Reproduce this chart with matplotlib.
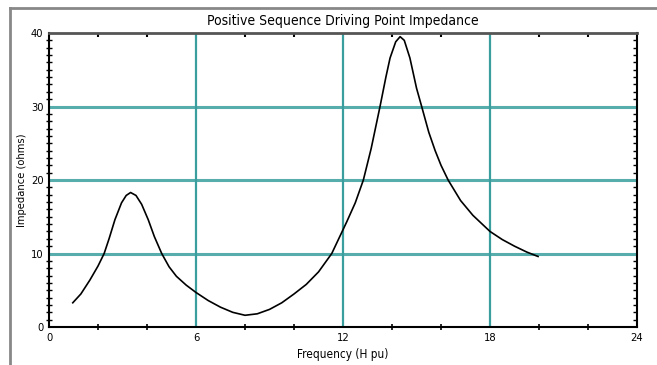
import matplotlib.pyplot as plt
from matplotlib.lines import Line2D
from matplotlib.ticker import MultipleLocator, NullFormatter

plt.rcParams['font.family'] = ['DejaVu Sans']
plt.rcParams['font.stretch'] = 'condensed'

# values
freq = [0.97, 1.3, 1.67, 2.0, 2.25, 2.45, 2.69, 2.96, 3.15, 3.33, 3.55, 3.78,
        4.05, 4.3, 4.6, 4.9, 5.2, 5.6, 6.0, 6.5, 7.0, 7.5, 8.0, 8.5, 9.0,
        9.5, 10.0, 10.5, 11.0, 11.54, 12.15, 12.5, 12.83, 13.15, 13.51,
        13.75, 13.92, 14.15, 14.33, 14.5, 14.73, 15.0, 15.21, 15.5, 15.76,
        16.0, 16.29, 16.8, 17.3, 18.0, 18.5, 19.0, 19.5, 19.96]
impedance = [3.3, 4.5, 6.4, 8.3, 10.0, 12.0, 14.6, 16.9, 17.9, 18.3, 17.9, 16.7,
             14.6, 12.3, 10.0, 8.2, 6.9, 5.7, 4.7, 3.6, 2.7, 2.0, 1.6, 1.8,
             2.4, 3.3, 4.5, 5.8, 7.5, 10.0, 14.3, 16.9, 20.0, 24.3, 30.0,
             34.0, 36.6, 38.8, 39.5, 39.0, 36.6, 32.5, 30.0, 26.5, 24.0,
             22.0, 20.0, 17.2, 15.2, 13.0, 11.9, 11.0, 10.2, 9.6]
x_ticks = [0, 6, 12, 18, 24]
y_ticks = [0, 10, 20, 30, 40]

fig = plt.figure(figsize=(6.57, 3.65), dpi=100)
ax = fig.add_axes([0.0746, 0.104, 0.895, 0.8056])

grid_col = '#3a9e9e'
for xv in x_ticks[1:-1]:
    ax.axvline(xv, color=grid_col, lw=1.6, zorder=1)
for yv in y_ticks[1:-1]:
    ax.axhline(yv, color=grid_col, lw=2.2, alpha=0.85, zorder=1)

ax.plot(freq, impedance, color='black', lw=1.2, zorder=3)

ax.set_xlim(0, 24)
ax.set_ylim(0, 40)
ax.set_xticks(x_ticks)
ax.set_yticks(y_ticks)
ax.xaxis.set_minor_locator(MultipleLocator(2))
ax.yaxis.set_minor_locator(MultipleLocator(1))
ax.tick_params(which='major', length=0, labelsize=8, pad=4)
ax.tick_params(axis='x', which='minor', direction='inout', length=5, width=1.2)
ax.tick_params(axis='y', which='minor', direction='inout', length=5, width=1)

# inward ticks on the top and right edges
top = ax.secondary_xaxis('top')
top.set_xticks(x_ticks)
top.xaxis.set_minor_locator(MultipleLocator(2))
top.xaxis.set_major_formatter(NullFormatter())
top.tick_params(which='major', length=0)
top.tick_params(which='minor', direction='in', length=3, width=1.5)
right = ax.secondary_yaxis('right')
right.set_yticks(y_ticks)
right.yaxis.set_minor_locator(MultipleLocator(1))
right.yaxis.set_major_formatter(NullFormatter())
right.tick_params(which='major', length=0)
right.tick_params(which='minor', direction='in', length=3, width=1)
for s in ax.spines.values():
    s.set_linewidth(1.5)
ax.spines['top'].set_color('#555555')
ax.spines['top'].set_linewidth(2)
top.spines['top'].set_visible(False)
right.spines['right'].set_visible(False)

ax.set_title('Positive Sequence Driving Point Impedance', fontsize=10, pad=6)
ax.set_xlabel('Frequency (H pu)', fontsize=8.5, labelpad=4)
ax.set_ylabel('Impedance (ohms)', fontsize=8, labelpad=3)

# outer frame lines of the original screenshot
fig.add_artist(Line2D([10 / 657, 10 / 657], [0, 1 - 8 / 365], color='#888888', lw=2))
fig.add_artist(Line2D([10 / 657, 1], [1 - 8 / 365, 1 - 8 / 365], color='#888888', lw=2))

fig.savefig('out.png', dpi=100)
